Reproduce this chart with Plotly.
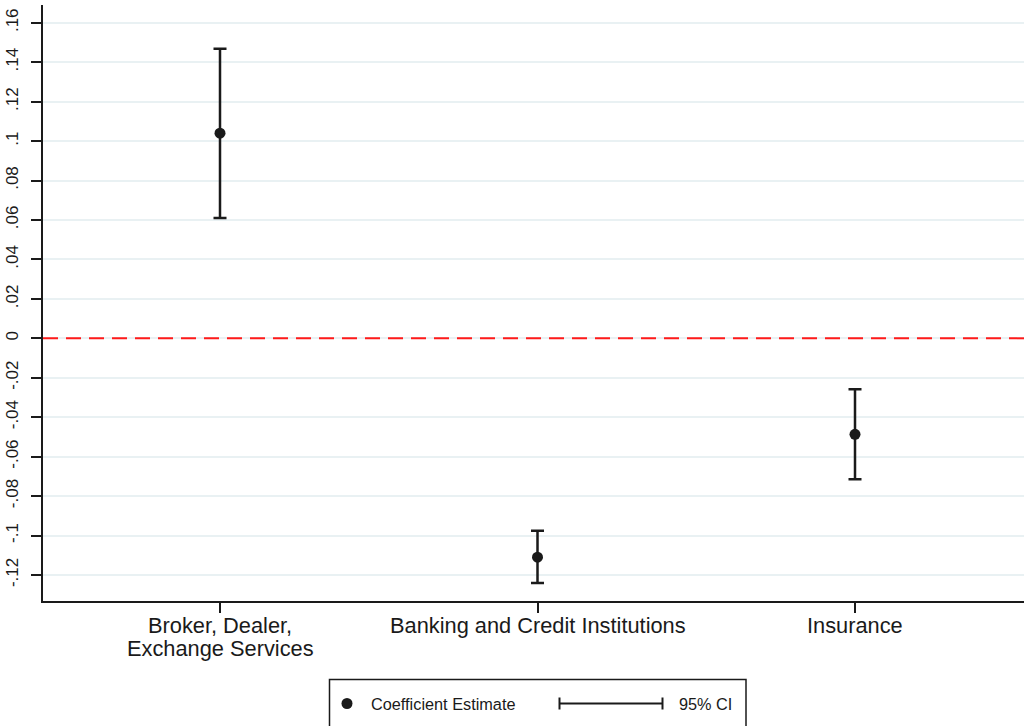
import plotly.graph_objects as go

# Coefficient estimates with 95% confidence intervals by sector
categories = ["Broker, Dealer,\nExchange Services", "Banking and Credit Institutions", "Insurance"]
estimate = [0.104, -0.111, -0.0487]
ci_low = [0.061, -0.1241, -0.0715]
ci_high = [0.1468, -0.0976, -0.0259]

y_tickvals = [0.16, 0.14, 0.12, 0.10, 0.08, 0.06, 0.04, 0.02, 0.0,
              -0.02, -0.04, -0.06, -0.08, -0.10, -0.12]
y_ticktext = [".16", ".14", ".12", ".1", ".08", ".06", ".04", ".02", "0",
              "-.02", "-.04", "-.06", "-.08", "-.1", "-.12"]

W, H = 1024, 726
ML, MR, MT, MB = 43, 0, 5, 125
PW, PH = W - ML - MR, H - MT - MB
INK = "#1a1a1a"
FONT = "Liberation Sans, Arial, sans-serif"


def px_x(p):
    return (p - ML) / PW


def px_y(p):
    return (H - MB - p) / PH


xs = list(range(len(categories)))

fig = go.Figure()
fig.add_trace(go.Scatter(
    x=xs, y=estimate, mode="markers",
    marker=dict(size=11, color=INK),
    error_y=dict(type="data", symmetric=False,
                 array=[h - e for h, e in zip(ci_high, estimate)],
                 arrayminus=[e - l for e, l in zip(estimate, ci_low)],
                 color=INK, thickness=2.5, width=6.5),
    showlegend=False, cliponaxis=False,
))

shapes = [
    # reference line at zero
    dict(type="line", xref="paper", yref="y", x0=0, x1=1, y0=0, y1=0,
         line=dict(color="#ff1a1a", width=2, dash="15px,8px"), layer="above"),
]

# legend box drawn below the plot
lx0, lx1, ly0, ly1 = px_x(329.5), px_x(746), px_y(679.5), px_y(760)
shapes.append(dict(type="rect", xref="paper", yref="paper",
                   x0=lx0, x1=lx1, y0=ly0, y1=ly1,
                   line=dict(color=INK, width=1.5), fillcolor="white"))
shapes.append(dict(type="circle", xref="paper", yref="paper",
                   x0=px_x(341.5), x1=px_x(352.5), y0=px_y(698), y1=px_y(709),
                   line=dict(color=INK, width=0), fillcolor=INK))
ci_y = px_y(703.5)
shapes.append(dict(type="line", xref="paper", yref="paper",
                   x0=px_x(559), x1=px_x(663), y0=ci_y, y1=ci_y,
                   line=dict(color=INK, width=2)))
for cx in (559.5, 662.5):
    shapes.append(dict(type="line", xref="paper", yref="paper",
                       x0=px_x(cx), x1=px_x(cx), y0=px_y(697.5), y1=px_y(709.5),
                       line=dict(color=INK, width=2)))

annotations = [
    dict(text="Coefficient Estimate", xref="paper", yref="paper",
         x=px_x(369), y=ci_y, xanchor="left", yanchor="middle", showarrow=False,
         font=dict(family=FONT, size=16.3, color=INK)),
    dict(text="95% CI", xref="paper", yref="paper",
         x=px_x(677), y=ci_y, xanchor="left", yanchor="middle", showarrow=False,
         font=dict(family=FONT, size=16.3, color=INK)),
]

# category labels under the x axis, one annotation per line
for i, label in enumerate(categories):
    for j, line in enumerate(label.split("\n")):
        annotations.append(dict(
            text=line, xref="x", yref="paper", x=i, y=px_y(625 + 24 * j),
            xanchor="center", yanchor="middle", showarrow=False,
            font=dict(family=FONT, size=21.8, color=INK)))

fig.update_layout(
    width=W, height=H,
    margin=dict(l=ML, r=MR, t=MT, b=MB),
    paper_bgcolor="white", plot_bgcolor="white",
    shapes=shapes, annotations=annotations,
    xaxis=dict(range=[-177 / 317.5, 2 + 169 / 317.5], tickvals=xs,
               ticktext=["", "", ""], showgrid=False, zeroline=False,
               showline=True, linecolor=INK, linewidth=1.5,
               ticks="outside", ticklen=10, tickwidth=1.5, tickcolor=INK),
    yaxis=dict(range=[-(601 - 338.3) / 1972, (338.3 - 5) / 1972],
               tickvals=y_tickvals, ticktext=y_ticktext, tickangle=-90,
               tickfont=dict(family=FONT, size=17, color=INK),
               showgrid=True, gridcolor="#e9f1f3", gridwidth=2, zeroline=False,
               showline=True, linecolor=INK, linewidth=1.5,
               ticks="outside", ticklen=10, tickwidth=1.5, tickcolor=INK,
               ticklabelstandoff=6),
    showlegend=False,
)

fig.write_html("out.html")
